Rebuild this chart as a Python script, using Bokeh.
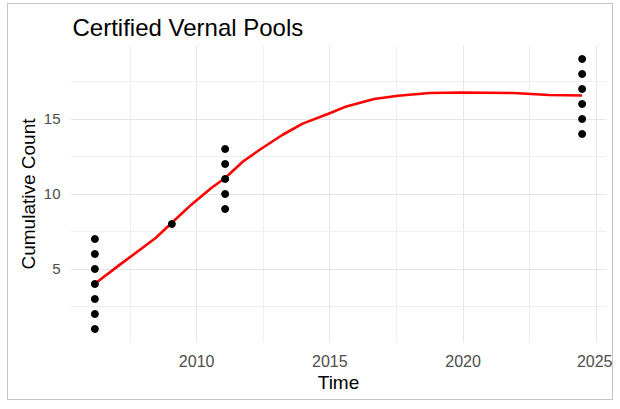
from bokeh.plotting import figure
from bokeh.models import Range1d, SingleIntervalTicker
from bokeh.embed import file_html
from bokeh.resources import INLINE

# Observed points (decimal year, cumulative count)
years = [2006.18, 2006.18, 2006.18, 2006.18, 2006.18, 2006.18, 2006.18,
         2009.07,
         2011.07, 2011.07, 2011.07, 2011.07, 2011.07,
         2024.47, 2024.47, 2024.47, 2024.47, 2024.47, 2024.47]
counts = [1, 2, 3, 4, 5, 6, 7,
          8,
          9, 10, 11, 12, 13,
          14, 15, 16, 17, 18, 19]

# Smoothed (loess) curve
fit_years = [2006.18, 2007.12, 2007.71, 2008.46, 2009.06, 2009.80, 2010.55, 2011.07,
             2011.74, 2012.41, 2013.23, 2013.98, 2015.02, 2015.62, 2016.66, 2017.56,
             2018.75, 2019.94, 2021.88, 2023.23, 2024.47]
fit_counts = [4.02, 5.29, 6.07, 7.07, 8.07, 9.29, 10.4, 11.07,
              12.17, 13.0, 13.95, 14.69, 15.4, 15.84, 16.33, 16.55,
              16.73, 16.77, 16.73, 16.6, 16.57]

x_ticks_interval = 5
y_ticks_interval = 5

xmin, xmax = min(years), max(years)
ymin, ymax = min(counts), max(counts)
xpad = (xmax - xmin) * 0.05
ypad = (ymax - ymin) * 0.05

p = figure(width=606, height=397, output_backend="svg", toolbar_location=None,
           x_range=Range1d(xmin - xpad, xmax + xpad),
           y_range=Range1d(ymin - ypad, ymax + ypad),
           title="Certified Vernal Pools",
           min_border_left=62, min_border_right=8, min_border_top=41, min_border_bottom=59)

p.styles = {"border": "1px solid #c4c4c4", "margin-left": "7px", "margin-top": "3px"}
p.outline_line_color = None
p.background_fill_color = "white"
p.border_fill_color = "white"

p.title.text_font = "Liberation Sans"
p.title.text_font_size = "24px"
p.title.text_font_style = "normal"
p.title.text_color = "black"
p.title.align = "left"
p.title.offset = 2
p.title.standoff = 9

p.xaxis.ticker = SingleIntervalTicker(interval=x_ticks_interval, num_minor_ticks=2)
p.yaxis.ticker = SingleIntervalTicker(interval=y_ticks_interval, num_minor_ticks=2)

for ax in (p.xaxis[0], p.yaxis[0]):
    ax.axis_line_color = None
    ax.major_tick_line_color = None
    ax.minor_tick_line_color = None
    ax.major_tick_out = 0
    ax.major_tick_in = 0
    ax.minor_tick_out = 0
    ax.minor_tick_in = 0
    ax.major_label_text_font = "Liberation Sans"
    ax.major_label_text_color = "#4d4d4d"
    ax.axis_label_text_font = "Liberation Sans"
    ax.axis_label_text_font_size = "19px"
    ax.axis_label_text_font_style = "normal"
    ax.axis_label_text_color = "black"

p.xaxis.major_label_standoff = 12
p.yaxis.major_label_standoff = 10
p.xaxis.major_label_text_font_size = "16px"
p.yaxis.major_label_text_font_size = "15px"
p.xaxis.axis_label = "Time"
p.yaxis.axis_label = "Cumulative Count"
p.xaxis.axis_label_standoff = 2
p.yaxis.axis_label_standoff = 2

for g in (p.xgrid[0], p.ygrid[0]):
    g.grid_line_color = "#e6e6e6"
    g.grid_line_width = 1
    g.minor_grid_line_color = "#efefef"
    g.minor_grid_line_width = 1

p.line(fit_years, fit_counts, line_color="red", line_width=2.6)
p.scatter(years, counts, size=7, color="black")

open("out.html", "w").write(file_html(p, INLINE))
